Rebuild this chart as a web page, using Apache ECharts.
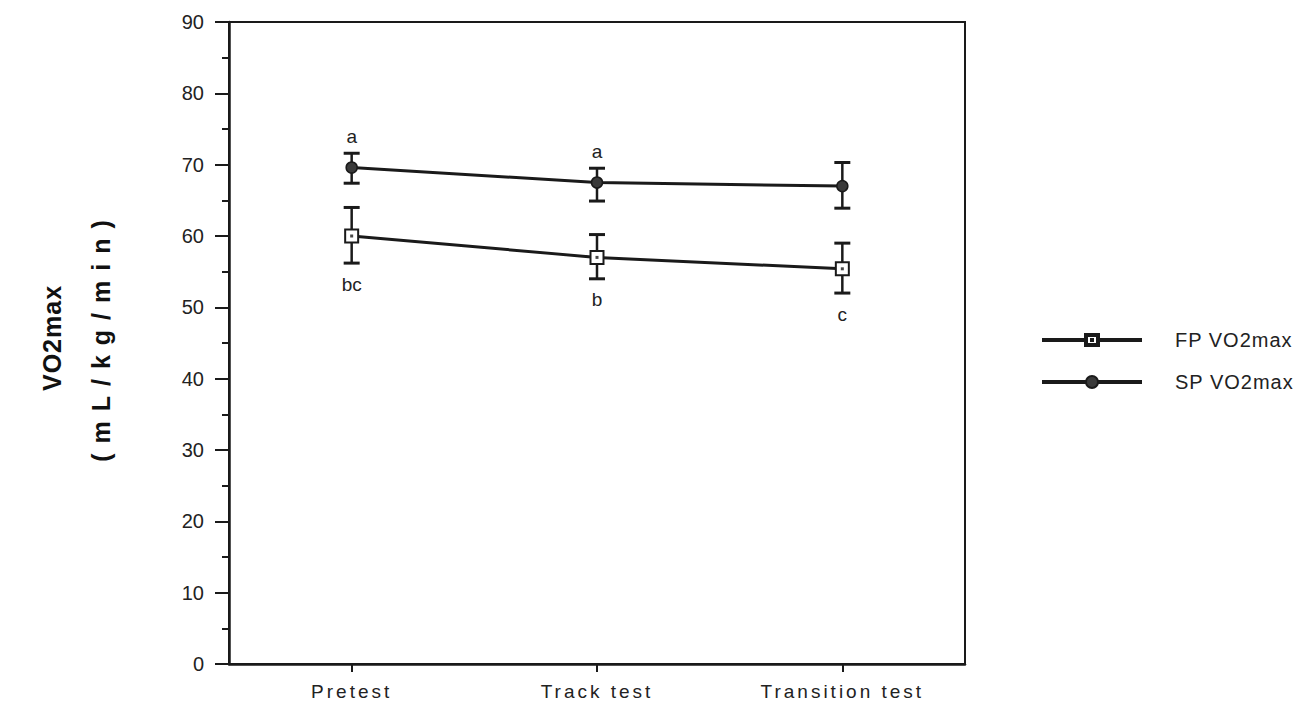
<!DOCTYPE html>
<html>
<head>
<meta charset="utf-8">
<script src="https://cdn.jsdelivr.net/npm/echarts@6/dist/echarts.min.js"></script>
<style>
  html, body { margin: 0; padding: 0; background: #fff; }
  #chart { width: 1313px; height: 714px; }
  #chart text[style*="Arimo"] { letter-spacing: 3px; }
  #chart text[style*="Helvetica"] { letter-spacing: 10px; }
  #chart text[style*="Nimbus"] { letter-spacing: 1px; }
</style>
</head>
<body>
<div id="chart"></div>
<script>
// ---- data ----
const categories = ['Pretest', 'Track test', 'Transition test'];
const fpMean  = [60.0, 57.0, 55.4];
const fpUpper = [64.0, 60.2, 59.0];
const fpLower = [56.2, 54.0, 52.0];
const spMean  = [69.6, 67.5, 67.0];
const spUpper = [71.6, 69.5, 70.3];
const spLower = [67.4, 64.9, 63.9];
const fpLetters = ['bc', 'b', 'c'];   // shown below FP error bars
const spLetters = ['a', 'a', ''];     // shown above SP error bars
const seriesNames = ['FP VO2max', 'SP VO2max'];
const yTitle1 = 'VO2max';
const yTitle2 = '(mL/kg/min)';

const INK = '#1a1a1a';
const FONT = '"Liberation Sans", sans-serif';

function errData(lo, hi) {
  return categories.map((c, i) => [i, lo[i], hi[i]]);
}
function errRender(letters, where) {
  return function (params, api) {
    const i = api.value(0);
    const lo = api.coord([i, api.value(1)]);
    const hi = api.coord([i, api.value(2)]);
    const hw = 8;
    const children = [
      { type: 'line', shape: { x1: lo[0], y1: lo[1], x2: hi[0], y2: hi[1] }, style: { stroke: INK, lineWidth: 2.5 } },
      { type: 'line', shape: { x1: lo[0] - hw, y1: lo[1], x2: lo[0] + hw, y2: lo[1] }, style: { stroke: INK, lineWidth: 3 } },
      { type: 'line', shape: { x1: hi[0] - hw, y1: hi[1], x2: hi[0] + hw, y2: hi[1] }, style: { stroke: INK, lineWidth: 3 } }
    ];
    const t = letters[params.dataIndex];
    if (t) {
      children.push({
        type: 'text',
        style: {
          text: t, x: lo[0], y: where === 'top' ? hi[1] - 17 : lo[1] + 21,
          align: 'center', verticalAlign: 'middle',
          font: '19px "Liberation Sans", sans-serif', fill: '#222'
        }
      });
    }
    return { type: 'group', children: children };
  };
}

const chart = echarts.init(document.getElementById('chart'), null, { renderer: 'svg' });
chart.setOption({
  backgroundColor: '#fff',
  animation: false,
  grid: { left: 229, right: 348, top: 22, bottom: 50, show: true, borderColor: INK, borderWidth: 2 },
  xAxis: {
    type: 'category',
    data: categories,
    axisLine: { show: true, lineStyle: { color: INK, width: 2.5 } },
    axisTick: { show: true, alignWithLabel: true, length: 8, lineStyle: { color: INK, width: 2 } },
    axisLabel: { color: '#222', fontSize: 19, margin: 18, fontFamily: '"Liberation Sans", Arimo' },
    splitLine: { show: false }
  },
  yAxis: {
    type: 'value',
    min: 0, max: 90, interval: 10,
    axisLine: { show: true, lineStyle: { color: INK, width: 2.5 } },
    axisTick: { show: true, length: 14, lineStyle: { color: INK, width: 2 } },
    minorTick: { show: true, splitNumber: 2, length: 7, lineStyle: { color: INK, width: 2 } },
    axisLabel: { color: '#222', fontSize: 20, margin: 25, fontFamily: FONT },
    splitLine: { show: false }
  },
  legend: {
    orient: 'vertical',
    left: 1037, top: 325,
    itemWidth: 98, itemHeight: 14, itemGap: 22,
    textStyle: { fontSize: 20, color: '#222', fontFamily: '"Liberation Sans", "Nimbus Sans"', padding: [0, 0, 0, 29] },
    data: [
      { name: seriesNames[0], icon: 'path://M0,6H42V8H0Z M42,1H56V13H42Z M44,3V11H54V3Z M48,6H50V8H48Z M56,6H98V8H56Z' },
      { name: seriesNames[1], icon: 'path://M0,6H43V8H0Z M55,6H98V8H55Z M49,1A6,6 0 1,1 49,13A6,6 0 1,1 49,1Z' }
    ]
  },
  graphic: [
    { type: 'text', x: 52, y: 338, rotation: Math.PI / 2,
      style: { text: yTitle1, font: 'bold 25px "Liberation Sans", "Nimbus Sans"', fill: '#111', align: 'center', verticalAlign: 'middle' } },
    { type: 'text', x: 101, y: 336, rotation: Math.PI / 2,
      style: { text: yTitle2, font: 'bold 25px "Liberation Sans", Helvetica', fill: '#111', align: 'center', verticalAlign: 'middle' } }
  ],
  series: [
    { type: 'custom', name: 'fp-err', data: errData(fpLower, fpUpper), renderItem: errRender(fpLetters, 'bottom'), z: 1, silent: true },
    { type: 'custom', name: 'sp-err', data: errData(spLower, spUpper), renderItem: errRender(spLetters, 'top'), z: 1, silent: true },
    {
      type: 'line', name: seriesNames[0], data: fpMean, z: 3,
      symbol: 'rect', symbolSize: 13,
      lineStyle: { color: INK, width: 3 },
      itemStyle: { color: '#fff', borderColor: INK, borderWidth: 2 }
    },
    {
      type: 'scatter', name: 'fp-dot', data: fpMean, z: 4, silent: true,
      symbol: 'rect', symbolSize: 3, itemStyle: { color: INK }
    },
    {
      type: 'line', name: seriesNames[1], data: spMean, z: 3,
      symbol: 'circle', symbolSize: 11,
      lineStyle: { color: INK, width: 3 },
      itemStyle: { color: '#3a3a3a', borderColor: INK, borderWidth: 1.5 }
    }
  ]
});
</script>
</body>
</html>
